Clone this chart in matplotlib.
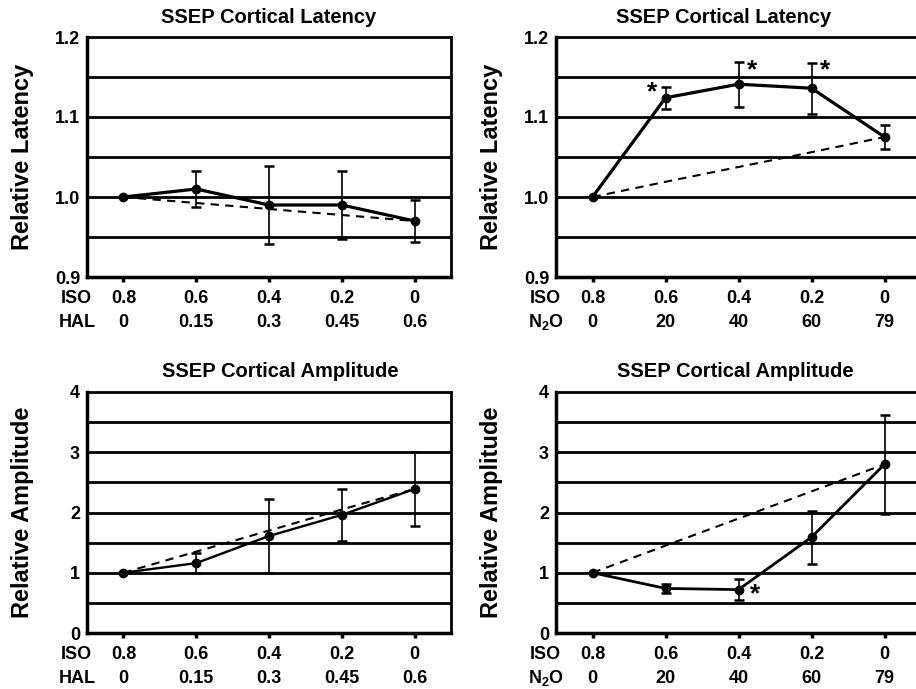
import matplotlib
matplotlib.use("Agg")
import matplotlib.pyplot as plt
import numpy as np

plt.rcParams['font.family'] = ['Liberation Sans', 'DejaVu Sans']
plt.rcParams['font.weight'] = 'bold'
plt.rcParams['mathtext.fontset'] = 'custom'
plt.rcParams['mathtext.rm'] = 'Liberation Sans:bold'
plt.rcParams['mathtext.it'] = 'Liberation Sans:bold'
plt.rcParams['mathtext.bf'] = 'Liberation Sans:bold'

# ---- data ----
iso_levels = ["0.8", "0.6", "0.4", "0.2", "0"]
hal_levels = ["0", "0.15", "0.3", "0.45", "0.6"]
n2o_levels = ["0", "20", "40", "60", "79"]

lat_hal = [1.0, 1.01, 0.99, 0.99, 0.97]
lat_hal_err = [0.0, 0.022, 0.049, 0.043, 0.026]
lat_hal_exp = [1.0, 0.9925, 0.985, 0.9775, 0.97]

lat_n2o = [1.0, 1.124, 1.141, 1.136, 1.075]
lat_n2o_err = [0.0, 0.014, 0.028, 0.032, 0.015]
lat_n2o_exp = [1.0, 1.019, 1.0375, 1.056, 1.075]

amp_hal = [1.0, 1.16, 1.61, 1.96, 2.39]
amp_hal_err = [0.0, 0.17, 0.62, 0.43, 0.62]
amp_hal_exp = [1.0, 1.35, 1.70, 2.05, 2.39]

amp_n2o = [1.0, 0.74, 0.72, 1.59, 2.80]
amp_n2o_err = [0.0, 0.07, 0.17, 0.44, 0.82]
amp_n2o_exp = [1.0, 1.45, 1.90, 2.35, 2.80]

# significance markers: (x index, y value)
lat_n2o_stars = [(0.82, 1.131), (2.18, 1.158), (3.19, 1.158)]
amp_n2o_stars = [(2.23, 0.64)]

W, H = 916, 689
fig = plt.figure(figsize=(W / 100, H / 100), dpi=100)

TICK_FS = 13


def px_axes(left, top, right, bottom):
    return fig.add_axes([left / W, 1 - bottom / H, (right - left) / W, (bottom - top) / H])


def panel(ax, y, yerr, yexp, ylim, grid, yticks, yticklabels, second, second_name,
          title, title_x, ylabel, lw, stars=()):
    x = np.arange(len(y))
    ax.set_xlim(-0.5, 4.5)
    ax.set_ylim(*ylim)
    for g in grid:
        ax.axhline(g, color='black', lw=2.0, zorder=1)
    ax.plot(x, yexp, color='black', lw=1.5, ls=(0, (4, 3)), zorder=2)
    ax.errorbar(x, y, yerr=yerr, color='black', lw=lw, marker='o', ms=6,
                ecolor='black', elinewidth=1.2, capsize=3.5, capthick=1.8, zorder=3)
    for sx, sy in stars:
        ax.text(sx, sy, '*', fontsize=19, fontweight='bold', ha='center', va='center')
    for sp in ax.spines.values():
        sp.set_linewidth(2.0)
    ax.spines['left'].set_linewidth(2.5)
    ax.spines['bottom'].set_linewidth(2.5)
    ax.set_xticks(x)
    ax.tick_params(axis='x', length=3.5, width=2.5, direction='out', labelbottom=False)
    ax.set_yticks(yticks)
    ax.set_yticklabels(yticklabels, fontsize=TICK_FS, fontweight='bold')
    ax.tick_params(axis='y', length=0, pad=5)
    tr = ax.get_xaxis_transform()
    ax.text(-0.64, -0.088, "ISO", transform=tr, ha='center', va='center',
            fontsize=TICK_FS, fontweight='bold')
    ax.text(-0.64, -0.188, second_name, transform=tr, ha='center', va='center',
            fontsize=TICK_FS, fontweight='bold')
    for i in range(len(x)):
        ax.text(x[i], -0.088, iso_levels[i], transform=tr, ha='center', va='center',
                fontsize=TICK_FS, fontweight='bold')
        ax.text(x[i], -0.188, second[i], transform=tr, ha='center', va='center',
                fontsize=TICK_FS, fontweight='bold')
    ax.text(title_x, 1.083, title, transform=ax.transAxes, ha='center', va='center',
            fontsize=14.5, fontweight='bold')
    ax.text(-0.177, 0.5, ylabel, transform=ax.transAxes, ha='center', va='center',
            rotation=90, fontsize=17, fontweight='bold')


lat_grid = [0.95, 1.0, 1.05, 1.1, 1.15]
lat_ticks = [0.9, 1.0, 1.1, 1.2]
lat_tick_labels = ["0.9", "1.0", "1.1", "1.2"]
amp_grid = [0.5, 1, 1.5, 2, 2.5, 3, 3.5]
amp_ticks = [0, 1, 2, 3, 4]
amp_tick_labels = ["0", "1", "2", "3", "4"]

ax1 = px_axes(87, 37, 451, 277)
panel(ax1, lat_hal, lat_hal_err, lat_hal_exp, (0.9, 1.2), lat_grid, lat_ticks,
      lat_tick_labels, hal_levels, "HAL", "SSEP Cortical Latency", 0.5,
      "Relative Latency", 2.3)

ax2 = px_axes(556, 37, 921, 277)
panel(ax2, lat_n2o, lat_n2o_err, lat_n2o_exp, (0.9, 1.2), lat_grid, lat_ticks,
      lat_tick_labels, n2o_levels, "N$_{2}$O", "SSEP Cortical Latency", 0.458,
      "Relative Latency", 2.3, lat_n2o_stars)

ax3 = px_axes(87, 392, 451, 633)
panel(ax3, amp_hal, amp_hal_err, amp_hal_exp, (0, 4), amp_grid, amp_ticks,
      amp_tick_labels, hal_levels, "HAL", "SSEP Cortical Amplitude", 0.53,
      "Relative Amplitude", 1.7)

ax4 = px_axes(556, 392, 921, 633)
panel(ax4, amp_n2o, amp_n2o_err, amp_n2o_exp, (0, 4), amp_grid, amp_ticks,
      amp_tick_labels, n2o_levels, "N$_{2}$O", "SSEP Cortical Amplitude", 0.49,
      "Relative Amplitude", 2.0, amp_n2o_stars)

fig.savefig("out.png", dpi=100)
